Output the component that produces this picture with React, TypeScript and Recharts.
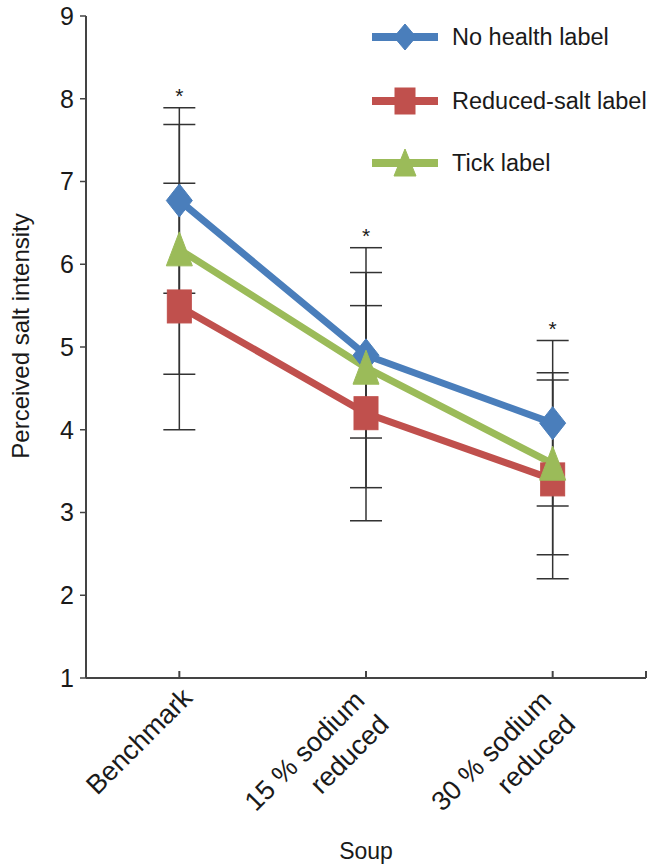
import React from 'react';
import { LineChart, Line, XAxis, YAxis, ErrorBar, Legend, Label, LabelList } from 'recharts';

const categoryLines: string[][] = [['Benchmark'], ['15 % sodium', 'reduced'], ['30 % sodium', 'reduced']];
const noHealth = [6.77, 4.9, 4.08];
const noHealthErr = [1.12, 1.0, 1.0];
const reducedSalt = [5.49, 4.2, 3.4];
const reducedSaltErr = [1.49, 1.3, 1.2];
const tickLabel = [6.18, 4.75, 3.59];
const tickLabelErr = [1.51, 1.45, 1.1];
const significant = [true, true, true];
const yTicks = [1, 2, 3, 4, 5, 6, 7, 8, 9];
const xTicks = [-0.5, 0, 1, 2, 2.5];

const FONT = '"Liberation Sans", Arial, sans-serif';
const AXIS = '#444';
const TEXT = '#1a1a1a';

const series = [
  { key: 'noHealth', name: 'No health label', color: '#4A7EBB', shape: 'diamond' },
  { key: 'reducedSalt', name: 'Reduced-salt label', color: '#C0504D', shape: 'square' },
  { key: 'tick', name: 'Tick label', color: '#9BBB59', shape: 'triangle' },
];

const data = categoryLines.map((_, i) => {
  const top = Math.max(
    noHealth[i] + noHealthErr[i],
    reducedSalt[i] + reducedSaltErr[i],
    tickLabel[i] + tickLabelErr[i]
  );
  return {
    x: i,
    noHealth: noHealth[i],
    noHealthErr: noHealthErr[i],
    reducedSalt: reducedSalt[i],
    reducedSaltErr: reducedSaltErr[i],
    tick: tickLabel[i],
    tickErr: tickLabelErr[i],
    star: significant[i] ? top + 0.2 : null,
  };
});

function Marker({ cx, cy, shape, color, w = 26, h = 33 }: any) {
  if (cx == null || cy == null) return null;
  if (shape === 'diamond') {
    const pts = `${cx},${cy - h / 2} ${cx + w / 2},${cy} ${cx},${cy + h / 2} ${cx - w / 2},${cy}`;
    return <polygon points={pts} fill={color} stroke={color} strokeWidth={1} />;
  }
  if (shape === 'square') {
    const sw = w - 2;
    return <rect x={cx - sw / 2} y={cy - h / 2} width={sw} height={h} fill={color} stroke={color} strokeWidth={1} />;
  }
  const pts = `${cx},${cy - h / 2 - 1} ${cx + w / 2},${cy + h / 2} ${cx - w / 2},${cy + h / 2}`;
  return <polygon points={pts} fill={color} stroke={color} strokeWidth={1} />;
}

const makeDot = (shape: string, color: string) => (props: any) => (
  <Marker key={`${shape}-${props.index}`} cx={props.cx} cy={props.cy} shape={shape} color={color} />
);

function XTick(props: any) {
  const { x, y, payload } = props;
  const v = payload.value;
  const isCat = Number.isInteger(v) && v >= 0 && v < categoryLines.length;
  let label = null;
  if (isCat) {
    const lines = categoryLines[v];
    const n = lines.length;
    const ax = x + 8;
    const ay = y + 15;
    label = (
      <g transform={`rotate(-45, ${ax}, ${ay})`}>
        {lines.map((t, i) => (
          <text
            key={i}
            x={ax - (n - 1) * 12}
            y={ay + i * 34 - (n - 1) * 8}
            textAnchor="end"
            dominantBaseline="central"
            fontSize={27}
            fontFamily={FONT}
            fill={TEXT}
          >
            {t}
          </text>
        ))}
      </g>
    );
  }
  return (
    <g>
      <line x1={x} y1={y} x2={x} y2={y - 7} stroke={AXIS} strokeWidth={2} />
      {label}
    </g>
  );
}

function StarLabel(props: any) {
  const { x, y, value } = props;
  if (value == null || x == null || y == null) return null;
  return (
    <text x={x} y={y + 12} textAnchor="middle" fontSize={21} fontFamily={FONT} fill={TEXT}>
      *
    </text>
  );
}

function LegendContent() {
  const rows = [37, 101, 163];
  return (
    <svg width={650} height={200} style={{ display: 'block' }}>
      {series.map((s, i) => (
        <g key={s.key}>
          <line x1={372} y1={rows[i]} x2={438} y2={rows[i]} stroke={s.color} strokeWidth={8} />
          <Marker cx={405} cy={rows[i]} shape={s.shape} color={s.color} w={22} h={26} />
          <text x={452} y={rows[i]} dominantBaseline="central" fontSize={23.5} fontFamily={FONT} fill={TEXT}>
            {s.name}
          </text>
        </g>
      ))}
    </svg>
  );
}

export default function App() {
  return (
    <div style={{ position: 'absolute', left: 0, top: 0, width: 650, height: 865, background: '#fff' }}>
      <LineChart width={650} height={865} data={data} margin={{ top: 16, right: 4, left: 0, bottom: 0 }}>
        <XAxis
          dataKey="x"
          type="number"
          domain={[-0.5, 2.5]}
          ticks={xTicks}
          allowDataOverflow
          height={187}
          interval={0}
          tickSize={0}
          tickMargin={0}
          tickLine={false}
          axisLine={{ stroke: AXIS, strokeWidth: 2 }}
          tick={<XTick />}
        >
          <Label
            content={(p: any) => {
              const vb = p.viewBox || {};
              return (
                <text
                  x={vb.x + vb.width / 2}
                  y={vb.y + 181}
                  textAnchor="middle"
                  fontSize={23}
                  fontFamily={FONT}
                  fill={TEXT}
                >
                  Soup
                </text>
              );
            }}
          />
        </XAxis>
        <YAxis
          type="number"
          domain={[1, 9]}
          ticks={yTicks}
          width={86}
          interval={0}
          tickSize={6}
          tickMargin={6}
          axisLine={{ stroke: AXIS, strokeWidth: 2 }}
          tickLine={{ stroke: AXIS, strokeWidth: 1.5 }}
          tick={{ fontSize: 25, fontFamily: FONT, fill: TEXT }}
        >
          <Label
            content={(p: any) => {
              const vb = p.viewBox || {};
              const cx = 20;
              const cy = vb.y + vb.height / 2 - 11;
              return (
                <text
                  x={cx}
                  y={cy}
                  transform={`rotate(-90, ${cx}, ${cy})`}
                  textAnchor="middle"
                  dominantBaseline="central"
                  fontSize={24}
                  fontFamily={FONT}
                  fill={TEXT}
                >
                  Perceived salt intensity
                </text>
              );
            }}
          />
        </YAxis>
        <Legend
          layout="vertical"
          verticalAlign="middle"
          align="center"
          content={<LegendContent />}
          wrapperStyle={{ position: 'absolute', left: 0, top: 0, width: 650, height: 200, pointerEvents: 'none' }}
        />
        {series.map((s) => (
          <Line
            key={s.key}
            dataKey={s.key}
            name={s.name}
            stroke={s.color}
            strokeWidth={7}
            isAnimationActive={false}
            dot={makeDot(s.shape, s.color)}
            activeDot={false}
          >
            <ErrorBar dataKey={`${s.key}Err`} width={16} stroke="#333" strokeWidth={1.5} direction="y" />
          </Line>
        ))}
        <Line
          dataKey="star"
          stroke="none"
          dot={false}
          activeDot={false}
          legendType="none"
          isAnimationActive={false}
        >
          <LabelList dataKey="star" content={<StarLabel />} />
        </Line>
      </LineChart>
    </div>
  );
}
